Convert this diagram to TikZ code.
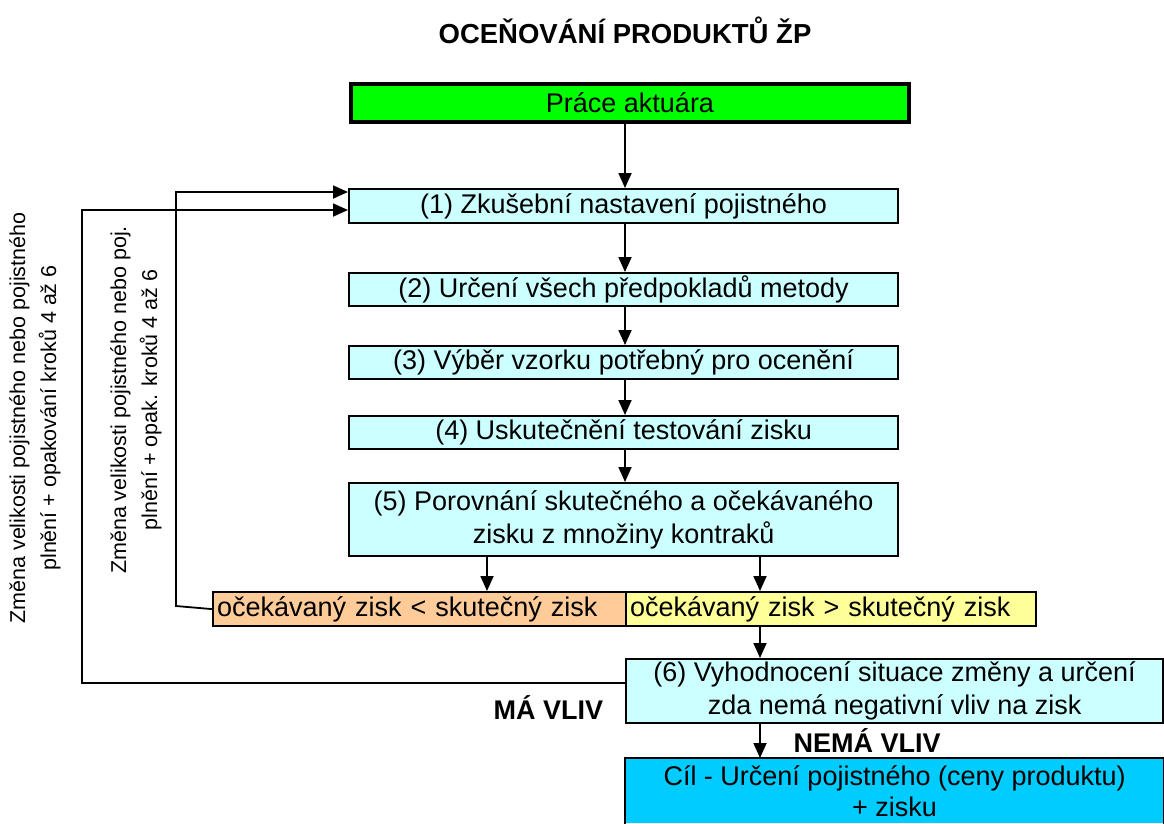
\documentclass[tikz,border=0pt]{standalone}
\usepackage{fontspec}
\setmainfont{Liberation Sans}
\usetikzlibrary{arrows.meta}
\definecolor{boxcyan}{HTML}{CCFFFF}
\definecolor{boxgreen}{HTML}{00FF00}
\definecolor{boxorange}{HTML}{FFCC99}
\definecolor{boxyellow}{HTML}{FFFF99}
\definecolor{boxgoal}{HTML}{00CCFF}
\tikzset{
  stepbox/.style={draw=black, line width=2.2pt, fill=boxcyan, inner sep=0pt, anchor=north west, font=\fontsize{27}{33}\selectfont, align=center},
  conn/.style={line width=1.8pt, -{Triangle[length=15pt,width=13pt]}},
  side/.style={font=\fontsize{21.5}{31}\selectfont, align=center, rotate=90},
  lab/.style={font=\fontsize{27}{30}\selectfont\bfseries}
}
\begin{document}
\begin{tikzpicture}[x=1pt,y=-1pt]
\useasboundingbox (0,0) rectangle (1164,823);
\node[font=\fontsize{27.5}{30}\selectfont\bfseries] (title) at (625,30) {OCEŇOVÁNÍ PRODUKTŮ ŽP};
\node[stepbox, fill=boxgreen, line width=4pt, minimum width=558pt, minimum height=38pt] (pa) at (349,82) {Práce aktuára};
\node[stepbox, minimum width=549pt, minimum height=34pt] (b1) at (348,188) {(1) Zkušební nastavení pojistného};
\node[stepbox, minimum width=549pt, minimum height=33pt] (b2) at (348,272) {(2) Určení všech předpokladů metody};
\node[stepbox, minimum width=549pt, minimum height=33pt] (b3) at (348,345) {(3) Výběr vzorku potřebný pro ocenění};
\node[stepbox, minimum width=549pt, minimum height=33pt] (b4) at (348,415) {(4) Uskutečnění testování zisku};
\node[stepbox, minimum width=549pt, minimum height=73pt] (b5) at (348,482) {(5) Porovnání skutečného a očekávaného\\zisku z množiny kontraků};
\node[stepbox, fill=boxorange, minimum width=413pt, minimum height=34pt, align=left, text width=405pt, inner xsep=4pt] (lt) at (212,591) {očekávaný zisk < skutečný zisk};
\node[stepbox, fill=boxyellow, minimum width=410pt, minimum height=34pt, align=left, text width=402pt, inner xsep=4pt] (gt) at (625,591) {očekávaný zisk > skutečný zisk};
\node[stepbox, minimum width=537pt, minimum height=64pt] (b6) at (625,658) {(6) Vyhodnocení situace změny a určení\\zda nemá negativní vliv na zisk};
\fill[boxgoal] (625,758) rectangle (1162,823);
\node[stepbox, draw=none, fill=boxgoal, minimum width=537pt, minimum height=64pt, anchor=north west, font=\fontsize{27}{31}\selectfont] (goal) at (625,758) {Cíl - Určení pojistného (ceny produktu)\\+ zisku};
\draw[line width=2.2pt] (goal.south west |- 0,824) -- (goal.north west) -- (goal.north east) -- (goal.south east |- 0,824);

\draw[conn] (pa.south -| 625,0) -- (b1.north -| 625,0);
\draw[conn] (b1.south -| 625,0) -- (b2.north -| 625,0);
\draw[conn] (b2.south -| 625,0) -- (b3.north -| 625,0);
\draw[conn] (b3.south -| 625,0) -- (b4.north -| 625,0);
\draw[conn] (b4.south -| 625,0) -- (b5.north -| 625,0);
\draw[conn] (b5.south -| 487,0) -- (lt.north -| 487,0);
\draw[conn] (b5.south -| 760,0) -- (gt.north -| 760,0);
\draw[conn] (gt.south -| 760,0) -- (b6.north -| 760,0);
\draw[conn] (b6.south -| 760,0) -- (goal.north -| 760,0);

\coordinate (in1) at (348,192);
\coordinate (in2) at (348,210);
\draw[conn] (lt.west) -- (176,606) -- (176,192) -- (in1);
\draw[conn] (b6.west |- 0,683) -- (82,683) -- (82,210) -- (in2);

\node[side] (s1) at (35,418) {Změna velikosti pojistného nebo pojistného\\plnění + opakování kroků 4 až 6};
\node[side] (s2) at (136,400) {Změna velikosti pojistného nebo poj.\\plnění + opak. kroků 4 až 6};
\node[lab, anchor=west] (ma) at (490,708) {MÁ VLIV};
\node[lab, anchor=west] (nema) at (790,741) {NEMÁ VLIV};
\end{tikzpicture}
\end{document}
